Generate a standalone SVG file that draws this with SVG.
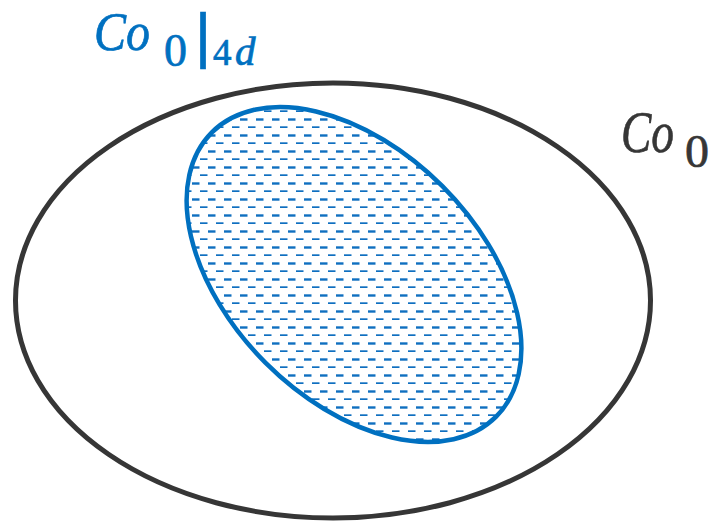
<svg xmlns="http://www.w3.org/2000/svg" width="713" height="522" viewBox="0 0 713 522">
  <style>
    .outer { fill: none; stroke: #363636; stroke-width: 5; }
    .inner { fill: none; stroke: #0070C0; stroke-width: 4.5; }
    .lbl { font-family: "Liberation Serif", "DejaVu Serif", serif; }
    .blue { fill: #0070C0; stroke: #0070C0; stroke-width: 0.7; }
    .dark { fill: #363636; stroke: #363636; stroke-width: 0.7; }
    .it { font-style: italic; }
  </style>
  <defs>
    <pattern id="dash" patternUnits="userSpaceOnUse" x="0" y="0" width="16" height="16">
      <rect x="0" y="0" width="16" height="16" fill="#ffffff"/>
      <rect x="0" y="6.3" width="7.5" height="2.4" fill="#0f6fc0"/>
      <rect x="8" y="14.3" width="7.5" height="2.4" fill="#0f6fc0"/>
    </pattern>
    <clipPath id="innerClip">
      <ellipse cx="0" cy="0" rx="201" ry="125" transform="translate(354 274.5) rotate(45)"/>
    </clipPath>
  </defs>
  <rect x="0" y="0" width="713" height="522" fill="#ffffff"/>
  <g id="co0">
    <ellipse class="outer" cx="333" cy="300.5" rx="317.5" ry="217.5"/>
    <text class="lbl dark it" x="621" y="152" font-size="60" textLength="53" lengthAdjust="spacingAndGlyphs">Co</text>
    <text class="lbl dark" x="685" y="167" font-size="47" textLength="24" lengthAdjust="spacingAndGlyphs">0</text>
  </g>
  <g id="co0-4d">
    <rect x="170" y="90" width="370" height="370" fill="url(#dash)" clip-path="url(#innerClip)"/>
    <ellipse class="inner" cx="0" cy="0" rx="201" ry="125" transform="translate(354 274.5) rotate(45)"/>
    <text class="lbl blue it" x="94" y="50" font-size="55" textLength="56" lengthAdjust="spacingAndGlyphs">Co</text>
    <text class="lbl blue" x="164" y="66" font-size="46">0</text>
    <text class="blue" x="195" y="56" font-family="Liberation Sans, sans-serif" font-size="62" stroke-width="0">|</text>
    <text class="lbl blue" y="65"><tspan x="213" font-size="37">4</tspan><tspan class="it" x="235" font-size="41">d</tspan></text>
  </g>
</svg>
